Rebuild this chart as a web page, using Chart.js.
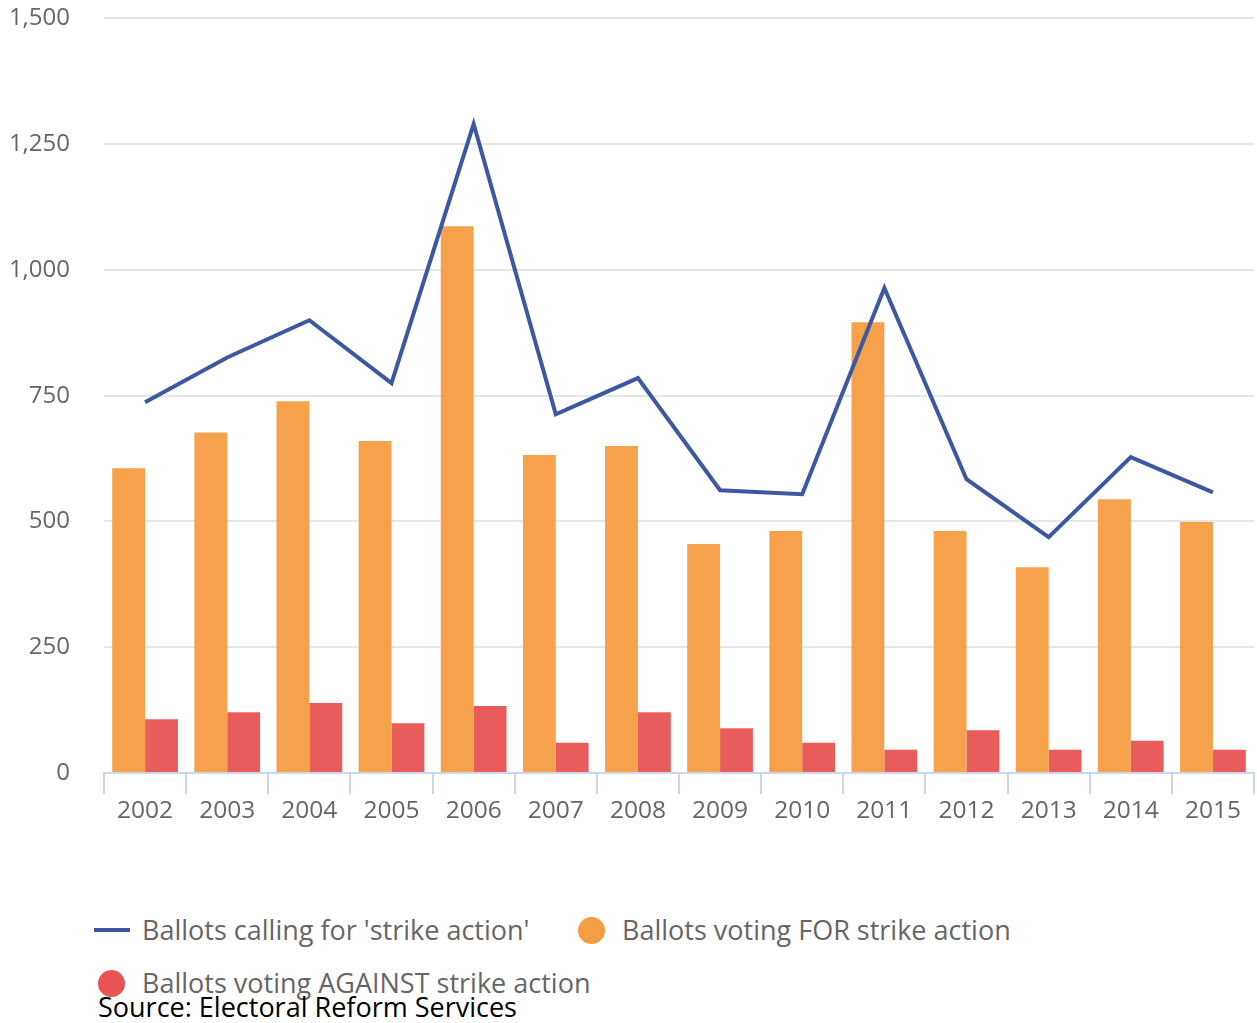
<!DOCTYPE html>
<html>
<head>
<meta charset="utf-8">
<script src="https://cdn.jsdelivr.net/npm/chart.js@4/dist/chart.umd.min.js"></script>
<style>
  body { margin: 0; background: #fff; font-family: 'Open Sans', sans-serif; overflow: hidden; }
  #wrap { position: relative; width: 1257px; height: 1023px; overflow: hidden; }
  #chartBox { position: absolute; left: 0; top: -30px; width: 1257px; height: 871px; }
  .legend-item { position: absolute; font-size: 27px; color: #666666; white-space: nowrap; line-height: 30px; }
  .legend-item .sym { position: absolute; }
  #source { position: absolute; left: 98px; top: 992px; font-size: 27px; color: #000; line-height: 30px; }
</style>
</head>
<body>
<div id="wrap">
  <div id="chartBox"><canvas id="ballotChart"></canvas></div>
  <div id="legend"></div>
  <div id="source">Source: Electoral Reform Services</div>
</div>
<script>
const years = ['2002', '2003', '2004', '2005', '2006', '2007', '2008', '2009', '2010', '2011', '2012', '2013', '2014', '2015'];
const ballotsCalling = [737, 826, 900, 775, 1290, 713, 785, 562, 554, 964, 584, 469, 628, 558];
const votingFor = [606, 677, 739, 660, 1087, 632, 650, 455, 481, 896, 481, 409, 544, 499];
const votingAgainst = [107, 121, 139, 99, 133, 60, 121, 89, 60, 46, 85, 46, 64, 46];
const yTicks = [0, 250, 500, 750, 1000, 1250, 1500];

const seriesNames = [
  "Ballots calling for 'strike action'",
  'Ballots voting FOR strike action',
  'Ballots voting AGAINST strike action'
];
const colors = {
  line: '#3c58a0',
  orange: '#f59d42',
  red: '#e85353'
};

const ctx = document.getElementById('ballotChart').getContext('2d');
const ballotChart = new Chart(ctx, {
  type: 'bar',
  data: {
    labels: years,
    datasets: [
      {
        type: 'line',
        label: seriesNames[0],
        data: ballotsCalling,
        borderColor: colors.line,
        borderWidth: 4,
        pointRadius: 0,
        tension: 0,
        fill: false,
        order: 0
      },
      {
        label: seriesNames[1],
        data: votingFor,
        backgroundColor: 'rgba(245,157,66,0.95)',
        categoryPercentage: 0.8,
        barPercentage: 1.0,
        order: 1
      },
      {
        label: seriesNames[2],
        data: votingAgainst,
        backgroundColor: 'rgba(232,83,83,0.95)',
        categoryPercentage: 0.8,
        barPercentage: 1.0,
        order: 1
      }
    ]
  },
  options: {
    responsive: true,
    maintainAspectRatio: false,
    animation: false,
    layout: {
      padding: { left: 0, right: 3, top: 17, bottom: 0 }
    },
    plugins: {
      legend: { display: false },
      tooltip: { enabled: false }
    },
    scales: {
      x: {
        grid: {
          offset: true,
          drawOnChartArea: false,
          color: '#ccd6eb',
          lineWidth: 2,
          tickLength: 21
        },
        border: { color: '#ccd6eb', width: 2 },
        ticks: {
          color: '#666666',
          font: { family: 'Open Sans', size: 24.5 },
          maxRotation: 0,
          padding: 2
        },
        afterFit: (scale) => { scale.height = 68; }
      },
      y: {
        min: 0,
        max: 1500,
        afterBuildTicks: (scale) => {
          scale.ticks = yTicks.map(v => ({ value: v }));
        },
        grid: {
          color: '#e6e6e6',
          lineWidth: 2,
          drawTicks: false
        },
        border: { display: false },
        ticks: {
          color: '#666666',
          font: { family: 'Open Sans', size: 24 },
          padding: 34,
          callback: (v) => v.toLocaleString('en-US')
        },
        afterFit: (scale) => { scale.width = 104; }
      }
    }
  }
});

// legenda em HTML, montada a partir dos nomes das séries
const legendItems = [
  { name: seriesNames[0], kind: 'line', color: colors.line, x: 94, y: 915 },
  { name: seriesNames[1], kind: 'dot', color: colors.orange, x: 578, y: 915 },
  { name: seriesNames[2], kind: 'dot', color: colors.red, x: 98, y: 968 }
];
const legendEl = document.getElementById('legend');
legendItems.forEach(item => {
  const div = document.createElement('div');
  div.className = 'legend-item';
  div.style.left = item.x + 'px';
  div.style.top = item.y + 'px';
  div.style.paddingLeft = (item.kind === 'line' ? 48 : 44) + 'px';
  const sym = document.createElement('span');
  sym.className = 'sym';
  if (item.kind === 'line') {
    sym.style.cssText = `left:0;top:13px;width:36px;height:4px;background:${item.color};`;
  } else {
    sym.style.cssText = `left:0;top:2px;width:27px;height:27px;border-radius:50%;background:${item.color};`;
  }
  div.appendChild(sym);
  div.appendChild(document.createTextNode(item.name));
  legendEl.appendChild(div);
});
</script>
</body>
</html>
